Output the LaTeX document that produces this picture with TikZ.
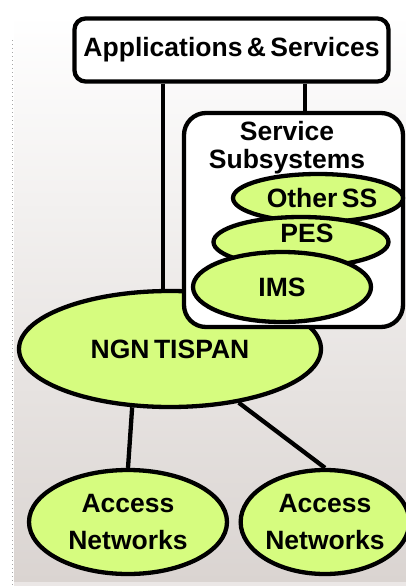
\documentclass[tikz,border=0pt]{standalone}
\usepackage{fontspec}
\setmainfont[WordSpace=0.6]{Liberation Sans}
\usetikzlibrary{shapes.geometric,calc}
\definecolor{lime}{HTML}{D6FC7F}
\definecolor{panelbot}{HTML}{DAD4D1}
\pgfdeclarelayer{panel}
\pgfdeclarelayer{links}
\pgfsetlayers{panel,links,main}

\begin{document}
\begin{tikzpicture}[x=1pt,y=-1pt,
  outline/.style={draw=black,line width=4.3pt},
  blob/.style={outline,ellipse,fill=lime,inner sep=0pt},
  lbl/.style={font=\bfseries\fontsize{26.5}{30}\selectfont,align=center,inner sep=0pt},
  link/.style={line width=4.3pt}]
\useasboundingbox (0,0) rectangle (406,586);

% background panel with its dotted left edge
\begin{pgfonlayer}{panel}
  \shade[top color=white,bottom color=panelbot] (14,14) rectangle (406,582);
  \fill[panelbot!55] (14,582) rectangle (406,586);
  \draw[gray!70,line width=1pt,dash pattern=on 1pt off 3pt] (12,40) -- (12,586);
\end{pgfonlayer}

% top box
\node[outline,rounded corners=11pt,fill=white,minimum width=314pt,minimum height=63pt,lbl]
  (app) at (231.5,50) {Applications \& Services};

% core network (lies behind the subsystem container)
\node[blob,minimum width=302pt,minimum height=116pt,lbl] (ngn) at (170,349) {NGN TISPAN};

% service subsystems container
\node[outline,rounded corners=22pt,fill=white,minimum width=219pt,minimum height=214pt]
  (ss) at (293.5,220) {};
\node[lbl,font=\bfseries\fontsize{26.5}{28}\selectfont] (sstitle) at (287,147.5) {Service\\Subsystems};

% stacked subsystems, back to front
\node[blob,minimum width=170pt,minimum height=48pt] (other) at (318,198) {};
\node[lbl] (otherT) at (322,198.5) {Other SS};
\node[blob,minimum width=175pt,minimum height=50pt] (pes) at (301,242) {};
\node[lbl,anchor=base] (pesT) at (307,242) {PES};
\node[blob,minimum width=178pt,minimum height=70pt,lbl] (ims) at (282,287) {IMS};

% access networks
\node[blob,minimum width=198pt,minimum height=104pt,lbl,font=\bfseries\fontsize{26.5}{37}\selectfont]
  (accL) at (128,522) {Access\\Networks};
\node[blob,minimum width=168pt,minimum height=104pt,lbl,font=\bfseries\fontsize{26.5}{37}\selectfont]
  (accR) at (325,522) {Access\\Networks};

% connectors
\coordinate (c1) at ($(app.south)+(-68.5,0)$);
\coordinate (c2) at ($(app.south)+(73.5,0)$);
\begin{pgfonlayer}{links}
  \draw[link] (c1) -- (c1 |- ngn.center);
  \draw[link] (c2) -- (c2 |- ss.north);
  \draw[link] (ngn.237) -- (accL.north);
  \draw[link] (ngn.322) -- (accR.north);
\end{pgfonlayer}
\end{tikzpicture}
\end{document}
